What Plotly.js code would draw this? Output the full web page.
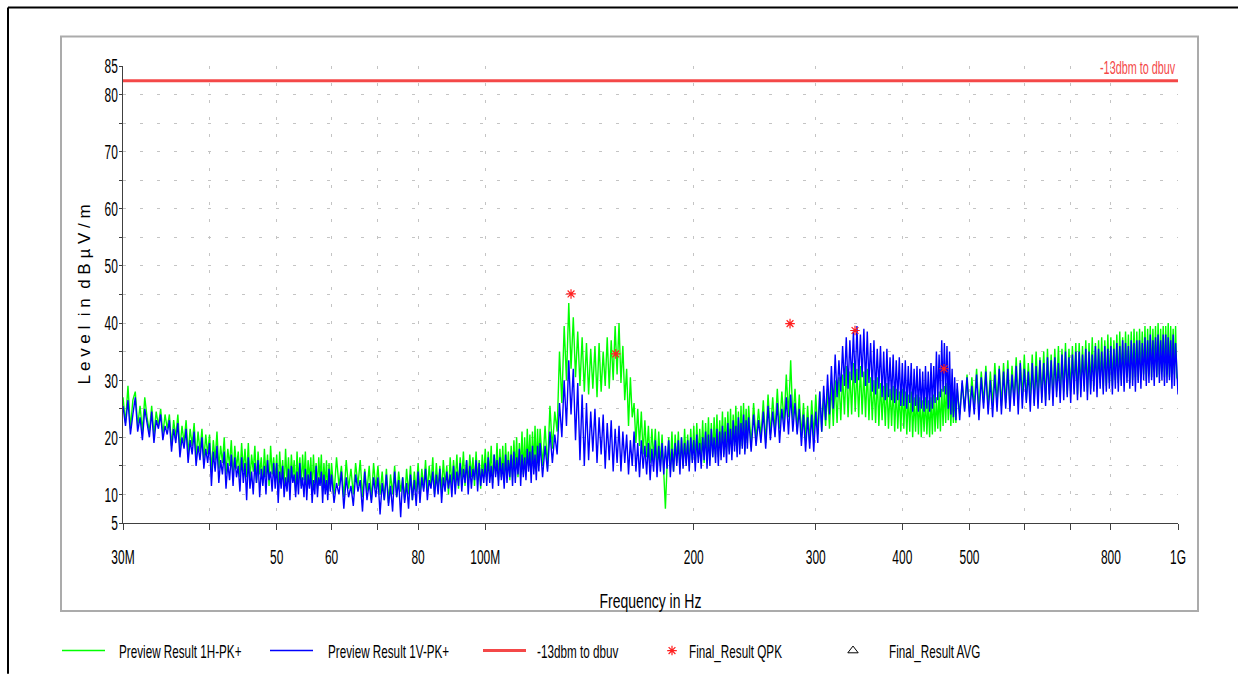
<!DOCTYPE html>
<html><head><meta charset="utf-8">
<script src="https://cdn.plot.ly/plotly-3.0.1.min.js"></script>
<style>html,body{margin:0;padding:0;background:#fff}#chart{width:1238px;height:674px}</style>
</head><body><div id="chart"></div>
<script>
// sweep frequencies (MHz)
const freqMHz = [
30,30.25,30.5,30.75,31,31.25,31.5,31.75,32,32.25,32.5,32.75,33,33.25,33.5,33.75,34,34.25,34.5,34.75,
35,35.25,35.5,35.75,36,36.25,36.5,36.75,37,37.25,37.5,37.75,38,38.25,38.5,38.75,39,39.25,39.5,39.75,
40,40.25,40.5,40.75,41,41.25,41.5,41.75,42,42.25,42.5,42.75,43,43.25,43.5,43.75,44,44.25,44.5,44.75,
45,45.25,45.5,45.75,46,46.25,46.5,46.75,47,47.25,47.5,47.75,48,48.25,48.5,48.75,49,49.25,49.5,49.75,
50,50.25,50.5,50.75,51,51.25,51.5,51.75,52,52.25,52.5,52.75,53,53.25,53.5,53.75,54,54.25,54.5,54.75,
55,55.25,55.5,55.75,56,56.25,56.5,56.75,57,57.25,57.5,57.75,58,58.25,58.5,58.75,59,59.25,59.5,59.75,
60,60.5,61,61.5,62,62.5,63,63.5,64,64.5,65,65.5,66,66.5,67,67.5,68,68.5,69,69.5,
70,70.5,71,71.5,72,72.5,73,73.5,74,74.5,75,75.5,76,76.5,77,77.5,78,78.5,79,79.5,
80,80.5,81,81.5,82,82.5,83,83.5,84,84.5,85,85.5,86,86.5,87,87.5,88,88.5,89,89.5,
90,90.5,91,91.5,92,92.5,93,93.5,94,94.5,95,95.5,96,96.5,97,97.5,98,98.5,99,99.5,
100,100.5,101,101.5,102,102.5,103,103.5,104,104.5,105,105.5,106,106.5,107,107.5,108,108.5,109,109.5,
110,110.5,111,111.5,112,112.5,113,113.5,114,114.5,115,115.5,116,116.5,117,117.5,118,118.5,119,119.5,
120,121,122,123,124,125,126,127,128,129,130,131,132,133,134,135,136,137,138,139,
140,141,142,143,144,145,146,147,148,149,150,151,152,153,154,155,156,157,158,159,
160,161,162,163,164,165,166,167,168,169,170,171,172,173,174,175,176,177,178,179,
180,181,182,183,184,185,186,187,188,189,190,191,192,193,194,195,196,197,198,199,
200,201,202,203,204,205,206,207,208,209,210,211,212,213,214,215,216,217,218,219,
220,221,222,223,224,225,226,227,228,229,230,231,232,233,234,235,236,237,238,239,
240,242,244,246,248,250,252,254,256,258,260,262,264,266,268,270,272,274,276,278,
280,282,284,286,288,290,292,294,296,298,300,302,304,306,308,310,312,314,316,318,
320,322,324,326,328,330,332,334,336,338,340,342,344,346,348,350,352,354,356,358,
360,362,364,366,368,370,372,374,376,378,380,382,384,386,388,390,392,394,396,398,
400,402,404,406,408,410,412,414,416,418,420,422,424,426,428,430,432,434,436,438,
440,442,444,446,448,450,452,454,456,458,460,462,464,466,468,470,472,474,476,478,
480,484,488,492,496,500,504,508,512,516,520,524,528,532,536,540,544,548,552,556,
560,564,568,572,576,580,584,588,592,596,600,604,608,612,616,620,624,628,632,636,
640,644,648,652,656,660,664,668,672,676,680,684,688,692,696,700,704,708,712,716,
720,724,728,732,736,740,744,748,752,756,760,764,768,772,776,780,784,788,792,796,
800,804,808,812,816,820,824,828,832,836,840,844,848,852,856,860,864,868,872,876,
880,884,888,892,896,900,904,908,912,916,920,924,928,932,936,940,944,948,952,956,
960,964,968,972,976,980,984,988,992,996,1000
];
// Preview Result 1H-PK+ (dBµV/m)
const levelH = [
27,22.5,29,21.5,26.5,28,22,25.5,21,27,23.5,21,25.5,20.5,24.5,22,25,20.5,24,21.5,
24,18.5,23,20,24,18,22,19,23,17,21.5,18.5,22.5,16.5,21,17.5,21.5,16,20.5,17,
20.5,14,19.5,16,21,14.5,18.5,15.5,20,13.5,18,15,19.5,13,18.5,14.5,17.5,13,19,14,
18,13,19,12.5,17,14,18.5,12,17.5,13.5,16.5,12,18,13,17,11.5,18.5,13.5,16.5,12.5,
17,11,17.5,12.5,16,11,18,12,16.5,11.5,17,13,16,10.5,17.5,12,16.5,11.5,17,12.5,
17.5,11,16,12.5,16.5,10.5,17,12,15.5,11,16.5,12.5,17,10.5,15.5,11.5,16,10,15.5,11,
15.5,10,16.5,11.5,15,9.5,16,11,14.5,10,15.5,11.5,16,9.5,14.5,10.5,15,9,15.5,11,
15,10,14,9,14.5,8.5,13.5,10,15,9.5,14,10.5,13,9,14.5,10,15,9,14,10.5,
15.5,10,14.5,11,16,10.5,15,11.5,16.5,10,15.5,11,15,10.5,16,11.5,15,10,16.5,11.5,
16,12,17,11,16.5,12.5,17.5,11.5,16,12,17,13,16.5,11.5,17.5,12.5,16,11,17,13,
18,12.5,17.5,13,18.5,12,17,13.5,19,12.5,18,13,18.5,12,19,13.5,17.5,12.5,18.5,13,
19.5,14,20,13,19,14.5,21,13.5,20,14,21.5,15,20.5,13.5,21,14.5,22,14,21.5,15,
21.5,15,22,14.5,25.5,18,24.5,21,35,26,39.5,30,43.5,32,41,30.5,38.5,29,37.5,28,
36.5,27.5,35.5,28.5,36,27,36.5,28,35,29,37.5,28.5,37,30,39.5,31,40,29.5,36,26.5,
32,22,30.5,23.5,26,19,25,18.5,24.5,17,23,16.5,22,15.5,21.5,16,21.5,14.5,21,15,
20.5,14,7.5,15,20,14.5,21,14,20.5,15.5,21,14.5,20,15,21.5,15.5,20.5,15,21.5,16,
22,15.5,22.5,16.5,21.5,16,23,15.5,22.5,17,23.5,16,22.5,16.5,23.5,17,24,16.5,23,17.5,
24.5,17,23.5,18,24.5,17.5,25,17,24,18.5,25.5,17.5,24.5,18,25.5,18.5,26,17.5,25,19,
25.5,18.5,26,19.5,25,20,26.5,19,27.5,20.5,27,21,28.5,21.5,28,22.5,31,23.5,33.5,23,
28.5,21,27.5,20,26,19.5,25.5,19,26.5,20,27.5,20.5,28,21,27,22,28.5,21.5,29.5,22,
30,22.5,30.5,23,31,24,32.5,23.5,31.5,24,33,24.5,32,23.5,32.5,24,31.5,23.5,32,23,
30.5,23,30,22.5,30.5,22,29.5,23,29,22,29.5,21.5,28.5,22,29,21,28.5,21.5,28,21,
28.5,21.5,28,20.5,27.5,21,28,20,27,21,27.5,20.5,27,20,26.5,21,27,20.5,26.5,20,
27,20.5,27.5,21,27,21.5,28,21,28.5,22,29,22.5,29.5,23,29,22,28,22.5,27.5,22.5,
28.5,24,29.5,25,31,24.5,30.5,25.5,32,25,31.5,26,32.5,25,31.5,25.5,33,26,32.5,25.5,
33,26,33.5,25.5,32.5,26.5,34,26,33.5,27,34.5,26.5,33,27,34.5,26,35,27.5,34,27,
35,26.5,35.5,27.5,34.5,27,35.5,28,36,27,35.5,28,36.5,27.5,35.5,28,36,28.5,36.5,27.5,
36.5,28.5,36,29,37,28,36.5,28.5,37.5,29,36.5,28.5,37,29.5,37.5,28.5,37,29,38,29.5,
37.5,29,37,30,38,29.5,38.5,30,37.5,29.5,38.5,30.5,38,29.5,38.5,30,39,30.5,38.5,30,
39,30.5,38.5,31,39.5,30,39,31,39.5,30.5,39,31.5,39.5,30.5,40,31,39,31.5,39.5,30.5,
39.5,31,40,30.5,39.5,31.5,39,31,39.5,30.5,30
];
// Preview Result 1V-PK+ (dBµV/m)
const levelV = [
25.5,22,26.5,20.5,24,27,21,23.5,19.5,25,22.5,20,24.5,19,23,21.5,24,19.5,22,20.5,
23,17.5,21.5,19,22.5,16.5,20,18,21.5,15.5,19.5,17,21,15,18.5,16,20,14.5,18,15.5,
19,11.5,17.5,14,18.5,12,16,13.5,17.5,11,15.5,12.5,17,11.5,16.5,13,15,10.5,16.5,12,
15.5,9,16.5,11,14,10,15.5,12,16,9.5,14.5,11.5,15,10,16,12.5,14,10.5,15.5,11,
15.5,8.5,14,11,15,9.5,13,10.5,14.5,9,15,12,13.5,9.5,14,10,15.5,11,13,9.5,
14.5,9,13.5,11,14,8.5,12.5,10,15,9.5,13,11.5,14,8.5,13.5,10,12.5,9,14.5,10.5,
13.5,8.5,12,10,14,7.5,13,9.5,11.5,8,13.5,10.5,12.5,7,14,9,12,8.5,13,9.5,
13,6.5,12,9,13.5,8,11.5,7,14,9.5,12.5,6,13,8.5,12,7.5,13.5,9,12.5,8,
14,8.5,13,10.5,14.5,9,12.5,11,14,9.5,13.5,10,14.5,8.5,13,10.5,14,11,13.5,9.5,
15,10,14,11.5,15.5,10.5,14.5,12,16,10,15,11,14.5,12.5,16,10.5,15.5,11.5,14.5,12,
15.5,11.5,16.5,12,15,11,17,13,16,11.5,16.5,12.5,15.5,11,17,12,16,13,17,11.5,
17.5,12,16.5,13.5,18,11.5,17,13,16.5,12.5,18,14,17.5,12,18.5,13.5,17,12.5,18.5,14,
19,13,18.5,14,21,15.5,20.5,17,26,20,30,22,33.5,24,32,19.5,29.5,16,27.5,15,
26,16,24.5,17.5,25,15.5,23.5,17,24,14.5,22.5,16,23,14,21.5,15.5,22,14,21,15.5,
20.5,13.5,19.5,15,21,14,19,13,19.5,14.5,18.5,13.5,19,12.5,18,14,19.5,13,18.5,14,
19,13.5,18.5,14.5,19.5,13,18,14,19,15,19.5,13.5,20,14.5,19,15,19.5,14,20,15.5,
19.5,14,20.5,15.5,19,14.5,20,16,21,14.5,20.5,15,21.5,16.5,20,15.5,21.5,15,21,16,
22,16.5,21,15.5,22.5,17,21.5,16,23,17.5,22,16.5,23.5,17,22.5,18,24,17,23,18,
23.5,17.5,24,18.5,23,19,24.5,18,25.5,19.5,24.5,20,26,19,25,21,27,20.5,27.5,21,
26,20.5,25,18.5,24,17.5,23.5,18,24,17.5,24.5,19,28,21,29,23,31,24,32.5,25,
34.5,27,33.5,28,36,29,37.5,28.5,37,30,38.5,29.5,39.5,30,38,30.5,39,29,38.5,29.5,
36.5,28,37,27.5,35.5,28.5,36,27,35,26.5,35.5,27,34,26.5,34.5,26,33.5,26.5,34,25.5,
33,25.5,33.5,25,32.5,26,33,24.5,32,25.5,32.5,24.5,32,25,31.5,24.5,32.5,25,31.5,24.5,
33,25,32.5,26,35,26.5,34.5,27,37,28,36.5,27.5,36,25,35,24,32,23.5,30.5,23,
29.5,23,30,24.5,30.5,23.5,29,24,31,23,30.5,25,31.5,24,30,23.5,31,24.5,32,24,
31.5,25,32,24.5,31,25.5,32.5,24,33,25,32,26,31.5,24.5,33,25.5,32.5,25,33.5,26,
33,25.5,34,26.5,33.5,25.5,34,27,33,26,34.5,26.5,35,27,34,26,34.5,27.5,35,26.5,
35,27,34.5,28,35.5,26.5,35,27.5,34.5,28,36,27,35.5,28.5,35,27.5,36,28,35.5,28.5,
36,27.5,35.5,28.5,36.5,28,36,29,37,28,36.5,29.5,36,28.5,37,29,36.5,28,37,29.5,
37,28.5,36.5,30,37.5,29,37,29.5,38,30,37,29,37.5,30.5,38,29.5,37,30,38,29,
38,29.5,37.5,30,37,28.5,38,29,36.5,30,27.5
];
const limitFreq = [30, 1000];
const limitLevel = [82.4, 82.4];
const qpkFreq = [133, 154.3, 275.4, 341.8, 459.4];
const qpkLevel = [45.1, 34.6, 39.9, 38.7, 32.0];
const avgFreq = [null];   // no AVG final results on this plot
const avgLevel = [null];
const xTickVals = [30,40,50,60,70,80,100,200,300,400,500,600,700,800,1000];
const xTickText = ['30M','','50','60','','80','100M','200','300','400','500','','','800','1G'];
const yTickVals = [5,10,15,20,25,30,35,40,45,50,55,60,65,70,75,80,85];
const yTickText = ['5','10','','20','','30','','40','','50','','60','','70','','80','85'];
const seriesNames = ['Preview Result 1H-PK+','Preview Result 1V-PK+','-13dbm to dbuv','Final_Result QPK','Final_Result AVG'];
const xTitle = 'Frequency in Hz';
const yTitle = 'L e v e l\u00a0 i n\u00a0 d B µ V / m';

const FONT = "'Liberation Sans',Arial,sans-serif";
const RED = '#f44848';

const traces = [
  {x: freqMHz, y: levelH, type: 'scatter', mode: 'lines', name: seriesNames[0], showlegend: true,
   line: {color: '#00ff00', width: 1.4}, legend: 'legend'},
  {x: freqMHz, y: levelV, type: 'scatter', mode: 'lines', name: seriesNames[1], showlegend: true,
   line: {color: '#0000ff', width: 1.4}, legend: 'legend2'},
  {x: limitFreq, y: limitLevel, type: 'scatter', mode: 'lines', name: seriesNames[2], showlegend: true,
   line: {color: RED, width: 3}, legend: 'legend3'},
  {x: qpkFreq, y: qpkLevel, type: 'scatter', mode: 'markers', name: seriesNames[3], showlegend: true,
   marker: {symbol: 'asterisk-open', size: 8, color: '#ff2020', line: {color: '#ff2020', width: 1.2}}, legend: 'legend4'},
  {x: avgFreq, y: avgLevel, type: 'scatter', mode: 'markers', name: seriesNames[4], showlegend: true,
   marker: {symbol: 'triangle-up-open', size: 9, color: '#000', line: {color: '#000', width: 1}}, legend: 'legend5'}
];

const L = 123, R = 1178, T = 65.5, B = 523;
const px = v => (v - L) / (R - L);
const py = v => (B - v) / (B - T);

function leg(x, iw) {
  return {x: x, y: py(651), xanchor: 'left', yanchor: 'middle', orientation: 'h',
    bgcolor: 'rgba(0,0,0,0)', borderwidth: 0, itemwidth: iw,
    font: {family: FONT, size: 18, color: '#000'}};
}

const layout = {
  width: 1238, height: 674,
  margin: {l: L, r: 1238 - R, t: T, b: 674 - B, pad: 0, autoexpand: false},
  paper_bgcolor: '#fff', plot_bgcolor: '#fff',
  hovermode: false, showlegend: true,
  font: {family: FONT, size: 14, color: '#000'},
  xaxis: {
    type: 'log', range: [Math.log10(30), Math.log10(1000)],
    tickvals: xTickVals, ticktext: xTickText,
    showline: true, linecolor: '#404040', linewidth: 1,
    ticks: 'outside', ticklen: 6, tickcolor: '#404040', tickwidth: 1,
    ticklabelstandoff: 9,
    showgrid: true, gridcolor: '#c4c4c4', gridwidth: 1, griddash: '3px,14px',
    zeroline: false,
    tickfont: {family: FONT, size: 21, color: '#000'},
    title: {text: xTitle, font: {family: FONT, size: 20, color: '#000'}, standoff: 26}
  },
  yaxis: {
    range: [5, 85], tickvals: yTickVals, ticktext: yTickText,
    showline: true, linecolor: '#404040', linewidth: 1,
    ticks: 'outside', ticklen: 3, tickcolor: '#404040', tickwidth: 1,
    ticklabelstandoff: -3,
    showgrid: true, gridcolor: '#c4c4c4', gridwidth: 1, griddash: '3px,14px',
    zeroline: false,
    tickfont: {family: FONT, size: 21, color: '#000'},
    title: {text: yTitle, font: {family: FONT, size: 17, color: '#000'}, standoff: 2}
  },
  legend: leg(px(57), 43),
  legend2: leg(px(265), 43),
  legend3: leg(px(478), 43),
  legend4: leg(px(652), 30),
  legend5: leg(px(817), 62),
  annotations: [
    {x: 1, xref: 'paper', y: limitLevel[0], yref: 'y', xanchor: 'right', yanchor: 'bottom',
     text: seriesNames[2], showarrow: false, yshift: 1,
     font: {family: FONT, size: 19, color: RED}}
  ],
  shapes: [
    {type: 'rect', xref: 'paper', yref: 'paper', x0: px(61), x1: px(1198), y0: py(611), y1: py(36),
     line: {color: '#ababab', width: 2}, fillcolor: 'rgba(0,0,0,0)', layer: 'below'},
    {type: 'line', xref: 'paper', yref: 'paper', x0: px(8), x1: px(8), y0: py(674), y1: py(7),
     line: {color: '#000', width: 2}},
    {type: 'line', xref: 'paper', yref: 'paper', x0: px(8), x1: px(1238), y0: py(7), y1: py(7),
     line: {color: '#000', width: 2}}
  ]
};

// legend text offsets (px) to match the reference spacing
const legendShift = {};
legendShift[seriesNames[0]] = 9;
legendShift[seriesNames[1]] = 10;
legendShift[seriesNames[2]] = 6;
legendShift[seriesNames[3]] = -3;
legendShift[seriesNames[4]] = 0;

// horizontally condense text glyphs (the reference uses a narrow face)
function condense(el, s, mode, dx) {
  const t = el.getAttribute('transform') || '';
  if (el.dataset.sq && el.dataset.sq === t) return;
  const bb = el.getBBox();
  if (!bb.width) return;
  const p = mode === 'start' ? bb.x : (mode === 'end' ? bb.x + bb.width : bb.x + bb.width / 2);
  const nt = t + ' translate(' + (p + (dx || 0)) + ',0) scale(' + s + ',1) translate(' + (-p) + ',0)';
  el.setAttribute('transform', nt);
  el.dataset.sq = nt;
}
function applyCondense() {
  const q = s => Array.from(document.querySelectorAll('#chart ' + s));
  q('.xtick text').forEach(el => condense(el, 0.57, 'middle', 0));
  q('.ytick text').forEach(el => condense(el, 0.57, 'end', 0));
  q('.g-xtitle text').forEach(el => condense(el, 0.7, 'middle', 0));
  q('.annotation-text').forEach(el => condense(el, 0.57, 'end', 0));
  q('.scrollbox text').forEach(el => condense(el, 0.65, 'start', legendShift[el.textContent] || 0));
  q('.g-ytitle text').forEach(el => {
    const t = el.getAttribute('transform') || '';
    if (el.dataset.sq && el.dataset.sq === t) return;
    const nt = 'translate(3,0) ' + t;
    el.setAttribute('transform', nt);
    el.dataset.sq = nt;
  });
}

const gd = document.getElementById('chart');
const mo = new MutationObserver(() => applyCondense());
mo.observe(gd, {childList: true, subtree: true, attributes: true, attributeFilter: ['transform', 'x', 'y']});
Plotly.newPlot(gd, traces, layout, {displayModeBar: false, staticPlot: true}).then(() => {
  applyCondense();
  gd.on('plotly_afterplot', applyCondense);
  setTimeout(applyCondense, 0);
  setTimeout(applyCondense, 150);
});
</script>
</body></html>
